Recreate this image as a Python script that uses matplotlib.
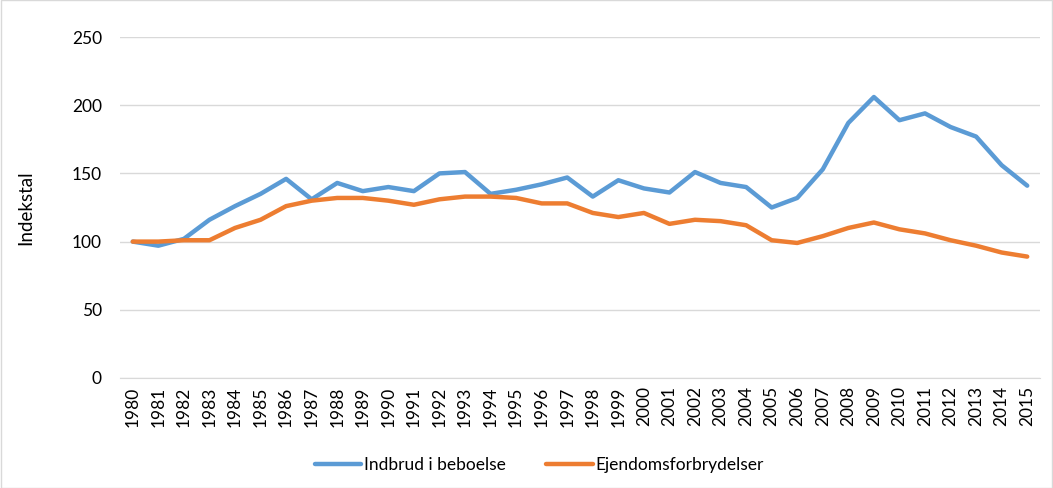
import matplotlib
matplotlib.use("Agg")
import matplotlib.pyplot as plt
from matplotlib.patches import Rectangle

plt.rcParams['font.family'] = ['Lato', 'DejaVu Sans']

years = list(range(1980, 2016))
indbrud = [100, 97, 102, 116, 126, 135, 146, 131, 143, 137, 140, 137, 150, 151, 135, 138,
           142, 147, 133, 145, 139, 136, 151, 143, 140, 125, 132, 153, 187, 206, 189, 194,
           184, 177, 156, 141]
ejendom = [100, 100, 101, 101, 110, 116, 126, 130, 132, 132, 130, 127, 131, 133, 133, 132,
           128, 128, 121, 118, 121, 113, 116, 115, 112, 101, 99, 104, 110, 114, 109, 106,
           101, 97, 92, 89]
series_names = ["Indbrud i beboelse", "Ejendomsforbrydelser"]
ylabel = "Indekstal"

fig = plt.figure(figsize=(10.53, 4.88), dpi=100)
ax = fig.add_axes([120/1053, (488-378)/488, (1040-120)/1053, (378-37)/488])

ax.plot(years, indbrud, color='#5B9BD5', lw=3.2, label=series_names[0], solid_capstyle='round')
ax.plot(years, ejendom, color='#ED7D31', lw=3.2, label=series_names[1], solid_capstyle='round')

ax.set_ylim(0, 250)
ax.set_xlim(1979.5, 2015.5)
ax.set_yticks([0, 50, 100, 150, 200, 250])
ax.set_xticks(years)
ax.set_xticklabels([str(y) for y in years], rotation=90, fontsize=12.5)
ax.tick_params(axis='y', labelsize=12.5, length=0, pad=13)
ax.tick_params(axis='x', length=0, pad=6)
ax.grid(axis='y', color='#D9D9D9', lw=1)
ax.set_axisbelow(True)
for s in ['top', 'right', 'left']:
    ax.spines[s].set_visible(False)
ax.spines['bottom'].set_color('#D9D9D9')
ax.set_ylabel(ylabel, fontsize=13.5)
ax.yaxis.set_label_coords(-0.093, 0.5)

leg = fig.legend(loc='center', bbox_to_anchor=(0.512, (488-465)/488), ncol=2, frameon=False,
                 fontsize=12.5, handlelength=2.7, columnspacing=2.3, handletextpad=0.15)

fig.patches.append(Rectangle((0.001, 0.001), 0.998, 0.998, transform=fig.transFigure,
                             fill=False, edgecolor='#D9D9D9', lw=1))

fig.savefig("out.png", dpi=100)
